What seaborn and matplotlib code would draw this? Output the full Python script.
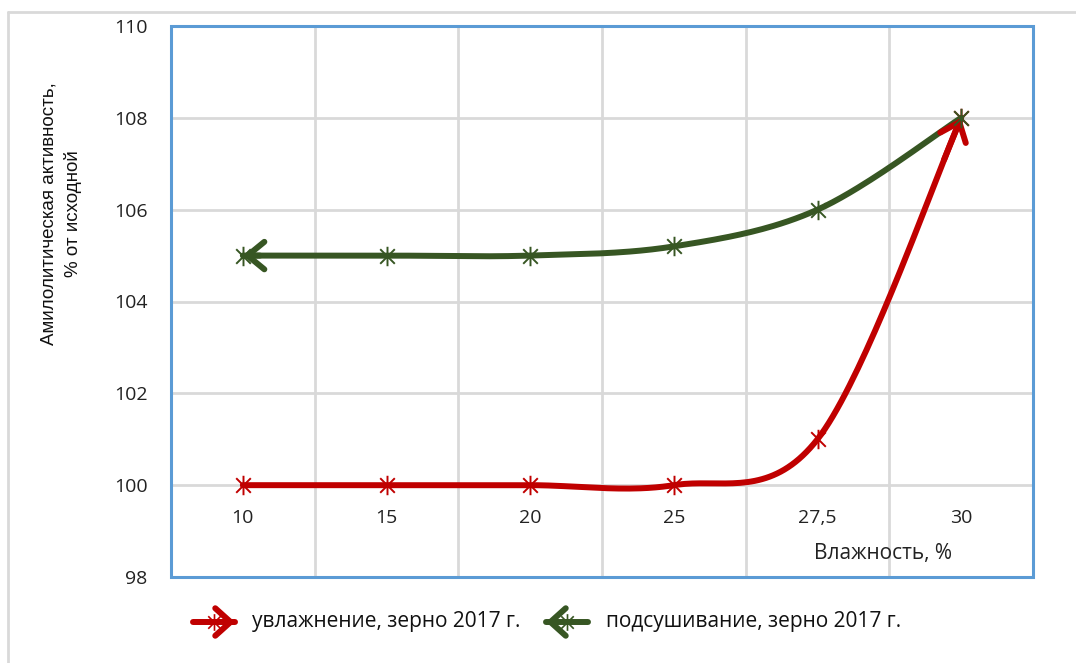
import numpy as np
import matplotlib
matplotlib.use("Agg")
import matplotlib.pyplot as plt
from matplotlib.path import Path
from matplotlib.patches import Rectangle
from matplotlib.lines import Line2D
import seaborn as sns

# Data
moisture = ["10", "15", "20", "25", "27,5", "30"]
wetting = [100, 100, 100, 100, 101, 108]      # увлажнение
drying = [105, 105, 105, 105.2, 106, 108]     # подсушивание
y_ticks = [98, 100, 102, 104, 106, 108, 110]

RED = "#C00000"
GREEN = "#375623"
BLUE = "#5B9BD5"
GRID = "#D9D9D9"

sns.set_style("white")
plt.rcParams["font.family"] = ["Open Sans", "DejaVu Sans"]


def smooth(xs, ys, n=40):
    # Excel-like smoothing: cubic Bezier with Catmull-Rom control points
    p = np.column_stack([xs, ys]).astype(float)
    ext = np.vstack([p[0], p, p[-1]])
    out = []
    for i in range(len(p) - 1):
        p0, p1, p2, p3 = ext[i], ext[i + 1], ext[i + 2], ext[i + 3]
        b1 = p1 + (p2 - p0) / 6
        b2 = p2 - (p3 - p1) / 6
        t = np.linspace(0, 1, n)[:, None]
        seg = ((1 - t) ** 3) * p1 + 3 * ((1 - t) ** 2) * t * b1 + 3 * (1 - t) * t ** 2 * b2 + t ** 3 * p2
        out.append(seg if i == 0 else seg[1:])
    return np.vstack(out)


star = Path([(0, -1), (0, 1), (-0.75, -0.75), (0.75, 0.75), (-0.75, 0.75), (0.75, -0.75)],
            [Path.MOVETO, Path.LINETO, Path.MOVETO, Path.LINETO, Path.MOVETO, Path.LINETO])

fig = plt.figure(figsize=(10.76, 6.63), dpi=100)
ax = fig.add_axes([171 / 1076, 1 - 577 / 663, (1033 - 171) / 1076, (577 - 26) / 663])

x = np.arange(len(moisture))
for vals, col, tip in [(wetting, RED, "end"), (drying, GREEN, "start")]:
    curve = smooth(x, vals)
    sns.lineplot(x=curve[:, 0], y=curve[:, 1], sort=False, color=col, lw=4.3,
                 ax=ax, solid_capstyle="round", zorder=3)
    ax.plot(x, vals, linestyle="none", marker=star, markersize=14, markeredgewidth=1.4,
            color=col, zorder=4)
    if tip == "end":
        head, tail = curve[-1], curve[-8]
    else:
        head, tail = curve[0], curve[7]
    ax.annotate("", xy=head, xytext=tail,
                arrowprops=dict(arrowstyle="->,head_length=0.55,head_width=0.45",
                                color=col, lw=4.3, shrinkA=0, shrinkB=0,
                                mutation_scale=22, capstyle="round", joinstyle="round"),
                zorder=4)

ax.set_xlim(-0.5, len(moisture) - 0.5)
ax.set_ylim(98, 110)

for s in ax.spines.values():
    s.set_visible(False)
ax.spines["bottom"].set_position(("data", 100))

ax.set_yticks(y_ticks)
ax.set_yticklabels([str(v) for v in y_ticks])
ax.set_xticks(x)
ax.set_xticklabels(moisture)
ax.set_xticks(np.arange(len(moisture) - 1) + 0.5, minor=True)
ax.tick_params(axis="x", which="both", length=0, pad=17, labelsize=14, labelcolor="#222222")
ax.tick_params(axis="y", length=0, pad=17, labelsize=14, labelcolor="#222222")

ax.grid(False)
ax.yaxis.grid(True, color=GRID, lw=2)
ax.xaxis.grid(True, which="minor", color=GRID, lw=2)
ax.set_axisbelow(True)

ax.add_patch(Rectangle((0, 0), 1, 1, transform=ax.transAxes, fill=False,
                       edgecolor=BLUE, lw=2.2, clip_on=False, zorder=5))

fig.text(883 / 1076, 1 - 553 / 663, "Влажность, %", fontsize=15, ha="center", va="center",
         color="#222222")
fig.text(61 / 1076, 1 - 214 / 663, "Амилолитическая активность,\n% от исходной", fontsize=13.5,
         rotation=90, ha="center", va="center", linespacing=1.45, color="#111111",
         family=["Liberation Sans Narrow", "Liberation Sans", "DejaVu Sans"])

# outer chart frame (top and left edges visible)
fig.add_artist(Line2D([8 / 1076, 8 / 1076], [0, 1 - 12 / 663], transform=fig.transFigure,
                      color="#D9D9D9", lw=2))
fig.add_artist(Line2D([8 / 1076, 1], [1 - 12 / 663, 1 - 12 / 663], transform=fig.transFigure,
                      color="#D9D9D9", lw=2))

# legend drawn under the plot
ly = 1 - 622 / 663
for x0, x1, col, label, tx in [(193, 235, RED, "увлажнение, зерно 2017 г.", 252),
                               (588, 546, GREEN, "подсушивание, зерно 2017 г.", 606)]:
    fig.add_artist(Line2D([x0 / 1076, x1 / 1076], [ly, ly], transform=fig.transFigure,
                          color=col, lw=4.3, solid_capstyle="round"))
    ax.annotate("", xy=(x1 / 1076, ly), xytext=((x1 - 8 * np.sign(x1 - x0)) / 1076, ly),
                xycoords="figure fraction", textcoords="figure fraction",
                arrowprops=dict(arrowstyle="->,head_length=0.5,head_width=0.45", color=col,
                                lw=4.3, shrinkA=0, shrinkB=0, mutation_scale=22))
    fig.add_artist(Line2D([(x0 + x1) / 2 / 1076], [ly], transform=fig.transFigure, marker=star,
                          markersize=12, markeredgewidth=1.2, color=col, linestyle="none"))
    fig.text(tx / 1076, ly, label, fontsize=15, va="center", ha="left", color="#111111")

fig.savefig("out.png", dpi=100, facecolor="white")
